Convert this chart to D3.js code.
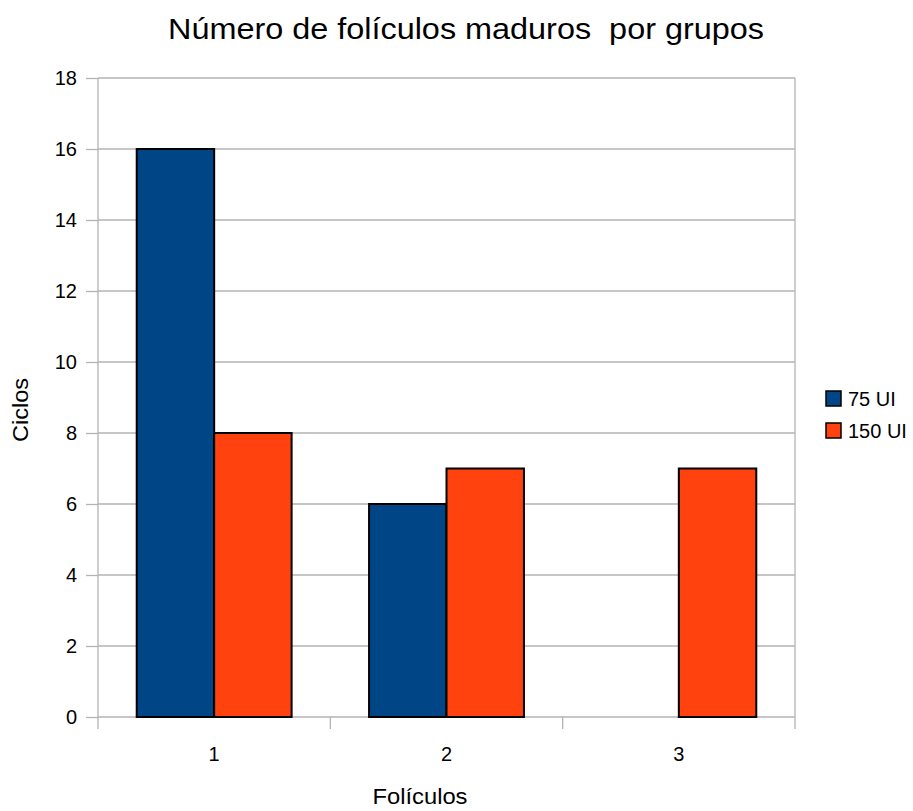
<!DOCTYPE html>
<html>
<head>
<meta charset="utf-8">
<script src="https://cdn.jsdelivr.net/npm/d3@7"></script>
<style>
  html, body { margin: 0; padding: 0; background: #fff; }
  svg { display: block; font-family: "Liberation Sans", Arial, sans-serif; }
</style>
</head>
<body>
<svg id="chart" width="913" height="811"></svg>
<script>
// Mature follicle counts per group
const categories = ["1", "2", "3"];
const seriesNames = ["75 UI", "150 UI"];
const values75 = [16, 6, 0];
const values150 = [8, 7, 7];
const yTicks = [0, 2, 4, 6, 8, 10, 12, 14, 16, 18];
const colors = ["#004586", "#ff420e"];

(function () {
  const svg = d3.select("#chart");
  const plotLeft = 98, plotRight = 795, plotTop = 78, plotBottom = 717;
  const gridColor = "#b3b3b3";

  const x = d3.scaleBand().domain(categories).range([plotLeft, plotRight]).paddingInner(0).paddingOuter(0);
  const xs = d3.scaleBand().domain(seriesNames).range([0, x.bandwidth()]).paddingInner(0).paddingOuter(0.5);
  const y = d3.scaleLinear().domain([0, 18]).range([plotBottom, plotTop]);

  // horizontal gridlines
  svg.append("g").selectAll("line").data(yTicks).join("line")
    .attr("x1", plotLeft).attr("x2", plotRight)
    .attr("y1", d => y(d)).attr("y2", d => y(d))
    .attr("stroke", gridColor).attr("stroke-width", 1.3);

  // right border of plot
  svg.append("line").attr("x1", plotRight).attr("x2", plotRight).attr("y1", plotTop).attr("y2", plotBottom + 12)
    .attr("stroke", gridColor).attr("stroke-width", 1.3);

  // y axis
  const yAxis = d3.axisLeft(y).tickValues(yTicks).tickSize(12).tickPadding(9);
  const gy = svg.append("g").attr("transform", `translate(${plotLeft},0)`).call(yAxis);
  gy.select(".domain").attr("stroke", gridColor).attr("stroke-width", 1.3)
    .attr("d", `M0,${plotTop}V${plotBottom + 12}`);
  gy.selectAll(".tick line").attr("stroke", gridColor).attr("stroke-width", 1.3);
  gy.selectAll(".tick text").attr("font-size", 20).attr("fill", "#000")
    .attr("font-family", "Liberation Sans, Arial, sans-serif");

  // x axis: ticks at category boundaries, labels at centres
  const gx = svg.append("g").attr("transform", `translate(0,${plotBottom})`);
  gx.selectAll("line").data(categories.slice(1)).join("line")
    .attr("x1", d => x(d)).attr("x2", d => x(d)).attr("y1", 0).attr("y2", 12)
    .attr("stroke", gridColor).attr("stroke-width", 1.3);
  gx.selectAll("text").data(categories).join("text")
    .attr("x", d => x(d) + x.bandwidth() / 2).attr("y", 44)
    .attr("text-anchor", "middle").attr("font-size", 20).text(d => d);

  // bars
  const rows = categories.map((c, i) => ({ cat: c, vals: [values75[i], values150[i]] }));
  const groups = svg.append("g").selectAll("g").data(rows).join("g")
    .attr("transform", d => `translate(${x(d.cat)},0)`);
  groups.selectAll("rect").data(d => d.vals.map((v, j) => ({ v, j })).filter(e => e.v > 0)).join("rect")
    .attr("x", d => xs(seriesNames[d.j]))
    .attr("width", xs.bandwidth())
    .attr("y", d => y(d.v))
    .attr("height", d => y(0) - y(d.v))
    .attr("fill", d => colors[d.j])
    .attr("stroke", "#000").attr("stroke-width", 2);

  // title
  svg.append("text").attr("x", 466).attr("y", 39).attr("text-anchor", "middle")
    .attr("font-size", 30).attr("textLength", 596).attr("lengthAdjust", "spacingAndGlyphs")
    .style("white-space", "pre")
    .text("Número de folículos maduros  por grupos");

  // axis titles
  svg.append("text").attr("x", 420).attr("y", 804).attr("text-anchor", "middle")
    .attr("font-size", 22).attr("textLength", 95).attr("lengthAdjust", "spacingAndGlyphs")
    .text("Folículos");
  svg.append("text").attr("transform", "translate(28,410) rotate(-90)").attr("text-anchor", "middle")
    .attr("font-size", 22).attr("textLength", 64).attr("lengthAdjust", "spacingAndGlyphs")
    .text("Ciclos");

  // legend
  const lg = svg.append("g").selectAll("g").data(seriesNames).join("g")
    .attr("transform", (d, i) => `translate(826,${391 + i * 32})`);
  lg.append("rect").attr("width", 15).attr("height", 15)
    .attr("fill", (d, i) => colors[i]).attr("stroke", "#000").attr("stroke-width", 1.5);
  lg.append("text").attr("x", 22).attr("y", 15).attr("font-size", 20).text(d => d);
})();
</script>
</body>
</html>
